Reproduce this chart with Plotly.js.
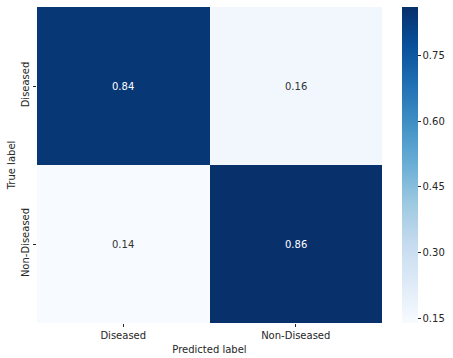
<!DOCTYPE html>
<html>
<head>
<meta charset="utf-8">
<script src="https://cdn.plot.ly/plotly-3.0.1.min.js"></script>
<style>html,body{margin:0;padding:0;background:#fff;}#chart{width:453px;height:358px;}</style>
</head>
<body>
<div id="chart"></div>
<script>
const predictedLabels = ["Diseased", "Non-Diseased"];
const trueLabels = ["Diseased", "Non-Diseased"];
const rowDiseased = [0.84, 0.16];
const rowNonDiseased = [0.14, 0.86];
const colorbarTicks = [0.15, 0.30, 0.45, 0.60, 0.75];

const z = [rowDiseased, rowNonDiseased];
const zmin = 0.14, zmax = 0.86;

const blues = [
  [0.000, '#f7fbff'], [0.125, '#deebf7'], [0.250, '#c6dbef'],
  [0.375, '#9ecae1'], [0.500, '#6baed6'], [0.625, '#4292c6'],
  [0.750, '#2171b5'], [0.875, '#08519c'], [1.000, '#08306b']
];

const annotations = [];
trueLabels.forEach((t, i) => {
  predictedLabels.forEach((p, j) => {
    const v = z[i][j];
    const frac = (v - zmin) / (zmax - zmin);
    annotations.push({
      x: p, y: t, xref: 'x', yref: 'y', text: v.toFixed(2), showarrow: false,
      font: {family: 'DejaVu Sans', size: 10, color: frac > 0.5 ? '#ffffff' : '#333333'}
    });
  });
});

const trace = {
  type: 'heatmap',
  x: predictedLabels,
  y: trueLabels,
  z: z,
  zmin: zmin, zmax: zmax,
  colorscale: blues,
  xgap: 0, ygap: 0,
  hoverinfo: 'none',
  colorbar: {
    x: 1.059, xanchor: 'left', xpad: 0,
    y: 0.5, yanchor: 'middle', ypad: 0,
    len: 1, lenmode: 'fraction',
    thickness: 16, outlinewidth: 0,
    tickvals: colorbarTicks,
    ticktext: colorbarTicks.map(v => v.toFixed(2)),
    ticks: 'outside', ticklen: 3, tickwidth: 1, tickcolor: '#262626',
    tickfont: {family: 'DejaVu Sans', size: 10, color: '#262626'}
  }
};

const layout = {
  width: 453, height: 358,
  margin: {l: 37, r: 62, t: 7, b: 35},
  paper_bgcolor: '#ffffff', plot_bgcolor: '#ffffff',
  font: {family: 'DejaVu Sans', size: 10, color: '#262626'},
  xaxis: {
    type: 'category', showgrid: false, zeroline: false, showline: false,
    ticks: 'outside', ticklen: 3, tickwidth: 1, tickcolor: '#262626',
    tickfont: {family: 'DejaVu Sans', size: 10, color: '#262626'},
    title: {text: 'Predicted label', standoff: 5, font: {family: 'DejaVu Sans', size: 10, color: '#262626'}}
  },
  yaxis: {
    type: 'category', autorange: 'reversed', showgrid: false, zeroline: false, showline: false,
    ticks: 'outside', ticklen: 3, tickwidth: 1, tickcolor: '#262626', tickangle: -90,
    tickfont: {family: 'DejaVu Sans', size: 10, color: '#262626'},
    title: {text: 'True label', standoff: 2, font: {family: 'DejaVu Sans', size: 10, color: '#262626'}}
  },
  annotations: annotations,
  showlegend: false
};

Plotly.newPlot('chart', [trace], layout, {displayModeBar: false, staticPlot: true});
</script>
</body>
</html>
